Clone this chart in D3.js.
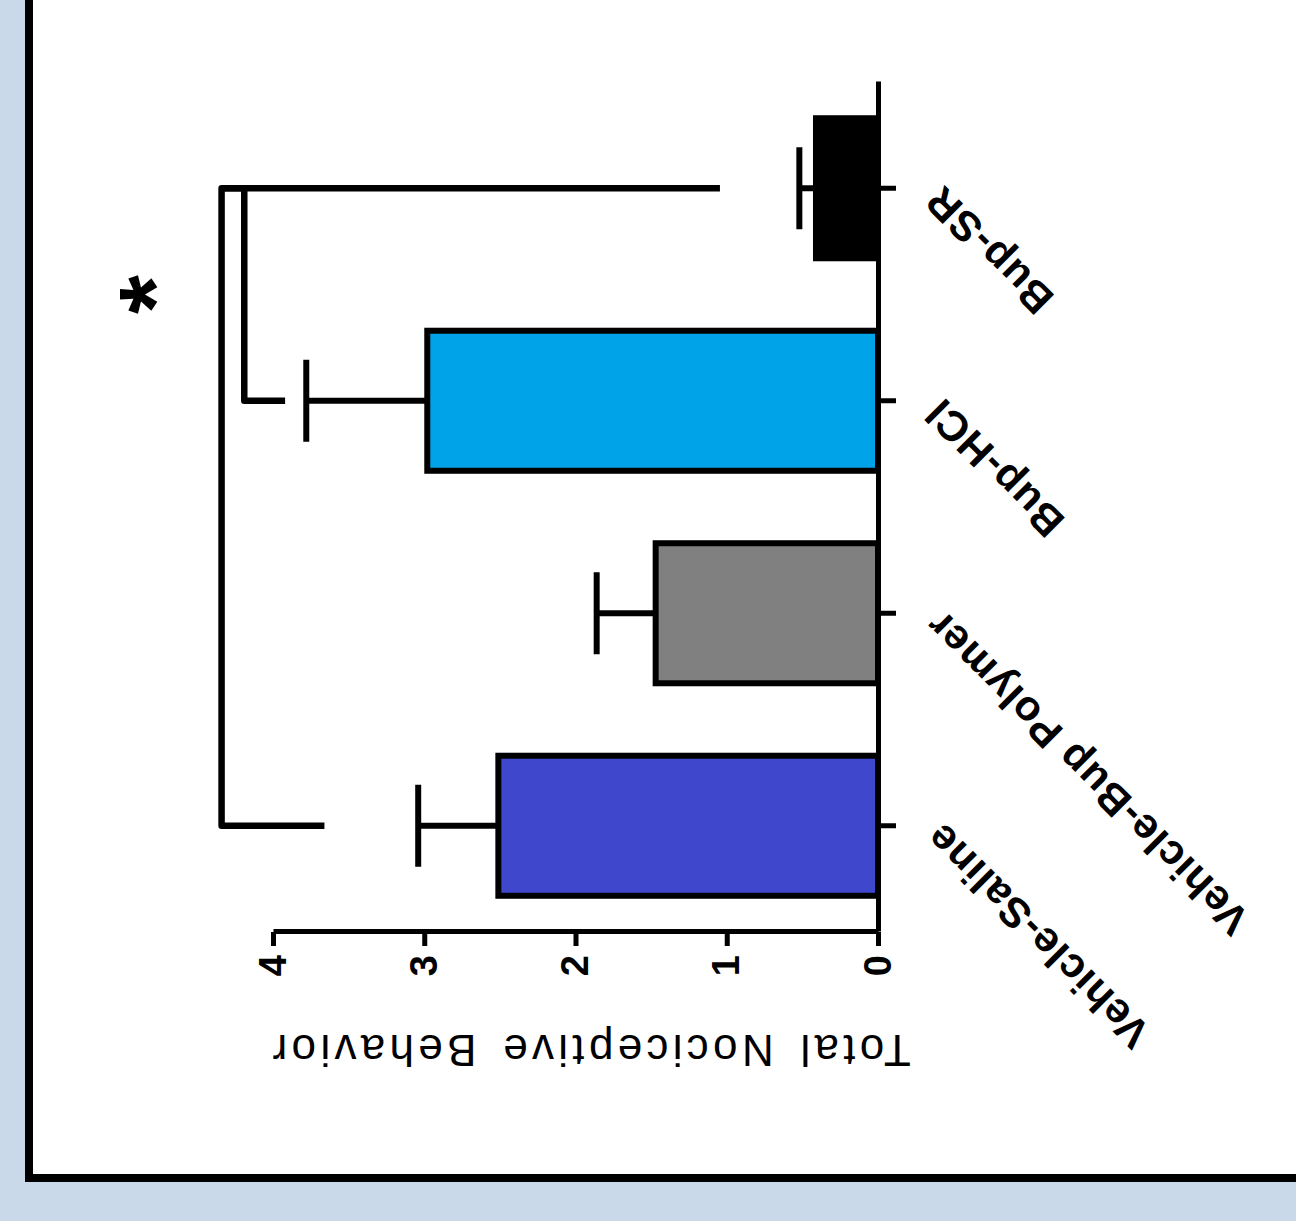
<!DOCTYPE html>
<html>
<head>
<meta charset="utf-8">
<script src="https://cdn.jsdelivr.net/npm/d3@7"></script>
<style>
  html, body { margin: 0; padding: 0; background: #c9d9e9; }
  svg { display: block; }
</style>
</head>
<body>
<svg id="chart" width="1296" height="1221"></svg>
<script>
// ---- data ----
const categories = ["Vehicle-Saline", "Vehicle-Bup Polymer", "Bup-HCl", "Bup-SR"];
const means = [2.51, 1.47, 2.98, 0.41];
const sems = [0.53, 0.39, 0.80, 0.11];
const barColors = ["#3f48cc", "#808080", "#00a2e8", "#000000"];
const valueTicks = [0, 1, 2, 3, 4];
const yTitle = "Total Nociceptive Behavior";
// significance brackets: [fromCategory, toCategory, top value, leg end at from, leg end at to]
const bracketFrom = ["Vehicle-Saline", "Bup-HCl"];
const bracketTo = ["Bup-SR", "Bup-SR"];
const bracketTop = [4.34, 4.19];
const bracketLegFrom = [3.66, 3.92];
const bracketLegTo = [1.045, 4.34];
const starLabel = "*";
const starValue = 4.95;
const starBetween = ["Bup-HCl", "Bup-SR"];

// ---- layout ----
const W = 1296, H = 1221;
const svg = d3.select("#chart");
const FONT = "'Liberation Sans', Arial, Helvetica, sans-serif";

// page frame
svg.append("rect").attr("x", 0).attr("y", 0).attr("width", W).attr("height", H).attr("fill", "#c9d9e9");
svg.append("rect")
  .attr("x", 29).attr("y", -20).attr("width", W - 29 + 40).attr("height", 1178 + 20)
  .attr("fill", "#ffffff").attr("stroke", "#000").attr("stroke-width", 8);

// The chart is drawn as a vertical bar chart, then rotated -90 degrees.
const g = svg.append("g").attr("transform", `translate(0,${H}) rotate(-90)`);

const y = d3.scaleLinear().domain([0, 4]).range([878, 273]);
const x = d3.scaleBand().domain(categories).range([289, 1139]).paddingInner(0.341).paddingOuter(0.1705);
const cx = c => x(c) + x.bandwidth() / 2;

// bars
g.selectAll("rect.bar").data(categories).join("rect")
  .attr("class", "bar")
  .attr("x", d => x(d))
  .attr("width", x.bandwidth())
  .attr("y", (d, i) => y(means[i]))
  .attr("height", (d, i) => y(0) - y(means[i]))
  .attr("fill", (d, i) => barColors[i])
  .attr("stroke", "#000").attr("stroke-width", 6);

// error bars (upper only)
const capHalf = 38;
g.selectAll("line.err").data(categories).join("line")
  .attr("class", "err")
  .attr("x1", d => cx(d)).attr("x2", d => cx(d))
  .attr("y1", (d, i) => y(means[i]))
  .attr("y2", (d, i) => y(means[i] + sems[i]))
  .attr("stroke", "#000").attr("stroke-width", 6);
g.selectAll("line.cap").data(categories).join("line")
  .attr("class", "cap")
  .attr("x1", d => cx(d) - capHalf).attr("x2", d => cx(d) + capHalf)
  .attr("y1", (d, i) => y(means[i] + sems[i]))
  .attr("y2", (d, i) => y(means[i] + sems[i]))
  .attr("stroke", "#000").attr("stroke-width", 6).attr("stroke-linecap", "square");

// value axis (left in chart frame -> bottom on screen)
const yAxisG = g.append("g").attr("transform", "translate(289,0)")
  .call(d3.axisLeft(y).tickValues(valueTicks).tickFormat(d3.format("d")).tickSize(14).tickSizeOuter(0).tickPadding(9));
yAxisG.select(".domain").attr("stroke", "#000").attr("stroke-width", 5);
yAxisG.selectAll(".tick line").attr("stroke", "#000").attr("stroke-width", 5);
yAxisG.selectAll(".tick text").attr("fill", "#000").style("font-family", FONT)
  .style("font-size", "38px").style("font-weight", "bold");

// category axis (bottom in chart frame -> right on screen)
const xAxisG = g.append("g").attr("transform", "translate(0,878)")
  .call(d3.axisBottom(x).tickSize(18).tickSizeOuter(0).tickPadding(10));
xAxisG.select(".domain").attr("stroke", "#000").attr("stroke-width", 5);
xAxisG.selectAll(".tick line").attr("stroke", "#000").attr("stroke-width", 5);
xAxisG.selectAll(".tick text")
  .attr("fill", "#000")
  .style("font-family", FONT).style("font-size", "42px").style("font-weight", "bold")
  .style("letter-spacing", "1px")
  .attr("text-anchor", "end")
  .attr("dy", "0.3em")
  .attr("transform", "translate(-4,56) rotate(-45)")
  .attr("y", 0).attr("x", 0);

// axis title
g.append("text")
  .attr("transform", `translate(186,${(y(0) + y(4)) / 2 + 14}) rotate(-90)`)
  .attr("text-anchor", "middle")
  .style("font-family", FONT).style("font-size", "44px")
  .style("letter-spacing", "4.3px").style("word-spacing", "6px")
  .attr("fill", "#000")
  .text(yTitle);

// significance brackets
bracketFrom.forEach((f, i) => {
  const x1 = cx(f), x2 = cx(bracketTo[i]);
  const p = d3.path();
  p.moveTo(x1, y(bracketLegFrom[i]));
  p.lineTo(x1, y(bracketTop[i]));
  p.lineTo(x2, y(bracketTop[i]));
  p.lineTo(x2, y(bracketLegTo[i]));
  g.append("path").attr("d", p.toString())
    .attr("fill", "none").attr("stroke", "#000").attr("stroke-width", 6.5)
    .attr("stroke-linejoin", "round");
});

// asterisk
g.append("text")
  .attr("x", (cx(starBetween[0]) + cx(starBetween[1])) / 2)
  .attr("y", y(starValue))
  .attr("dy", "0.6em")
  .attr("text-anchor", "middle")
  .style("font-family", FONT).style("font-size", "100px").style("font-weight", "bold")
  .attr("fill", "#000")
  .text(starLabel);
</script>
</body>
</html>
